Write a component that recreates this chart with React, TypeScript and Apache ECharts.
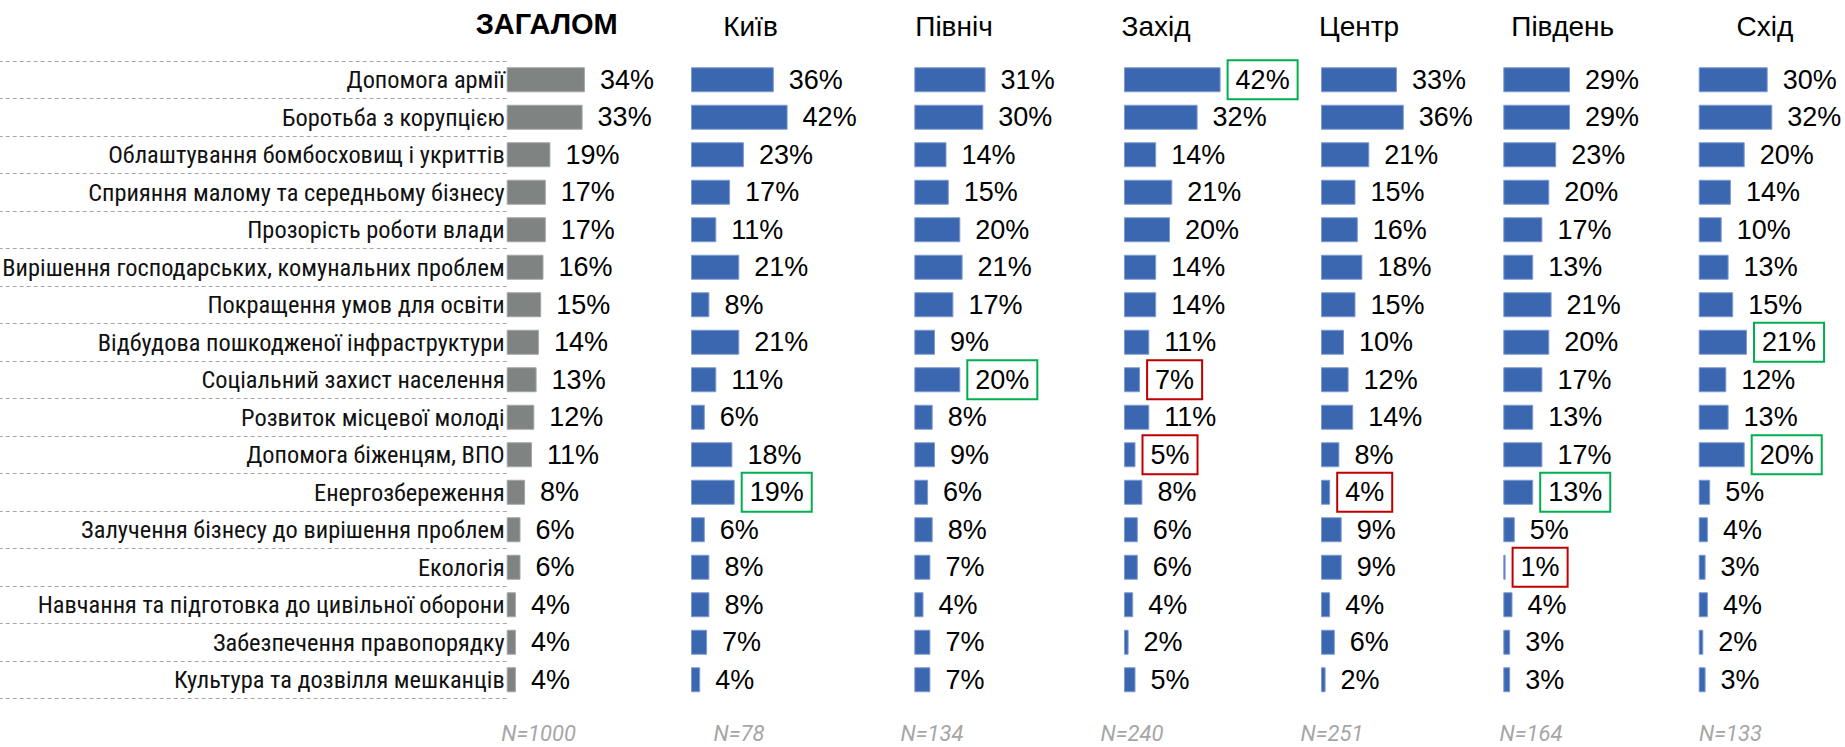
import React, { useEffect, useRef } from 'react';
import * as echarts from 'echarts';

const categories = [
  'Допомога армії',
  'Боротьба з корупцією',
  'Облаштування бомбосховищ і укриттів',
  'Сприяння малому та середньому бізнесу',
  'Прозорість роботи влади',
  'Вирішення господарських, комунальних проблем',
  'Покращення умов для освіти',
  'Відбудова пошкодженої інфраструктури',
  'Соціальний захист населення',
  'Розвиток місцевої молоді',
  'Допомога біженцям, ВПО',
  'Енергозбереження',
  'Залучення бізнесу до вирішення проблем',
  'Екологія',
  'Навчання та підготовка до цивільної оборони',
  'Забезпечення правопорядку',
  'Культура та дозвілля мешканців',
];

const overall = [34, 33, 19, 17, 17, 16, 15, 14, 13, 12, 11, 8, 6, 6, 4, 4, 4];
const kyiv = [36, 42, 23, 17, 11, 21, 8, 21, 11, 6, 18, 19, 6, 8, 8, 7, 4];
const north = [31, 30, 14, 15, 20, 21, 17, 9, 20, 8, 9, 6, 8, 7, 4, 7, 7];
const west = [42, 32, 14, 21, 20, 14, 14, 11, 7, 11, 5, 8, 6, 6, 4, 2, 5];
const centre = [33, 36, 21, 15, 16, 18, 15, 10, 12, 14, 8, 4, 9, 9, 4, 6, 2];
const south = [29, 29, 23, 20, 17, 13, 21, 20, 17, 13, 17, 13, 5, 1, 4, 3, 3];
const east = [30, 32, 20, 14, 10, 13, 15, 21, 12, 13, 20, 5, 4, 3, 4, 2, 3];

const panelTitles = ['ЗАГАЛОМ', 'Київ', 'Північ', 'Захід', 'Центр', 'Південь', 'Схід'];
const panelValues = [overall, kyiv, north, west, centre, south, east];
const sampleSizes = [1000, 78, 134, 240, 251, 164, 133];

// highlighted labels: [panel title, category index]
const highlightsHigh: [string, number][] = [
  ['Захід', 0],
  ['Північ', 8],
  ['Схід', 7],
  ['Схід', 10],
  ['Київ', 11],
  ['Південь', 11],
];
const highlightsLow: [string, number][] = [
  ['Захід', 8],
  ['Захід', 10],
  ['Центр', 11],
  ['Південь', 13],
];

// layout (pixels)
const barStarts = [506.7, 691, 914.3, 1124, 1321, 1503.3, 1698.7];
const titleCenters = [546.7, 750.6, 954, 1156, 1359, 1562.7, 1765];
const nCenters = [538.6, 739, 932, 1132, 1332, 1531, 1730.5];
const AXIS_MAX = 50;
const PX_PER_PCT = 2.3;
const GRID_TOP = 61;
const ROW_H = 37.5;

const GREEN = '#00b050';
const RED = '#c00000';

export default function App() {
  const ref = useRef<HTMLDivElement>(null);

  useEffect(() => {
    if (!ref.current) return;
    const chart = echarts.init(ref.current, undefined, { renderer: 'svg' });

    const gridH = ROW_H * categories.length;
    const grids = panelTitles.map((_, i) => ({
      left: barStarts[i],
      top: GRID_TOP,
      width: AXIS_MAX * PX_PER_PCT,
      height: gridH,
      containLabel: false,
      outerBoundsMode: 'none',
    }));

    const xAxes = panelTitles.map((_, i) => ({
      type: 'value',
      gridIndex: i,
      min: 0,
      max: AXIS_MAX,
      show: false,
    }));

    const yAxes = panelTitles.map((_, i) => ({
      type: 'category',
      gridIndex: i,
      data: categories,
      inverse: true,
      show: i === 0,
      axisLine: { show: false },
      axisTick: {
        show: i === 0,
        interval: 0,
        length: 507,
        lineStyle: { color: '#a6a6a6', width: 1, type: [4, 3] },
      },
      axisLabel: {
        show: i === 0,
        interval: 0,
        margin: 2,
        fontSize: 24.4,
        fontFamily: "'Liberation Sans Narrow', 'Roboto Condensed', 'DejaVu Sans Condensed', sans-serif",
        color: '#111',
      },
    }));

    const series = panelTitles.map((title, i) => {
      const isOverall = i === 0;
      return {
        type: 'bar',
        xAxisIndex: i,
        yAxisIndex: i,
        barWidth: 25,
        itemStyle: {
          color: isOverall ? '#7f8382' : '#3a67b0',
          borderColor: isOverall ? '#a3a6a5' : '#7f9ad0',
          borderWidth: 1,
        },
        label: {
          show: true,
          position: 'right',
          distance: 7,
          formatter: '{c}%',
          fontSize: 27,
          lineHeight: 27,
          fontFamily: "'Liberation Sans', Arial, sans-serif",
          color: '#000',
          padding: [6, 8, 6, 8],
          borderWidth: 2,
          borderColor: 'transparent',
        },
        data: panelValues[i].map((v, k) => {
          const high = highlightsHigh.some(([t, c]) => t === title && c === k);
          const low = highlightsLow.some(([t, c]) => t === title && c === k);
          if (high || low) {
            return { value: v, label: { borderColor: high ? GREEN : RED } };
          }
          return v;
        }),
      };
    });

    const graphics: any[] = [];
    panelTitles.forEach((t, i) => {
      graphics.push({
        type: 'text',
        x: titleCenters[i],
        y: i === 0 ? 24 : 26,
        style: {
          text: t,
          align: 'center',
          verticalAlign: 'middle',
          fontSize: i === 0 ? 29 : 28,
          fontWeight: i === 0 ? 'bold' : 'normal',
          fontFamily: "'Liberation Sans', Arial, sans-serif",
          fill: '#000',
        },
      });
      graphics.push({
        type: 'text',
        x: nCenters[i],
        y: 733,
        style: {
          text: 'N=' + sampleSizes[i],
          align: 'center',
          verticalAlign: 'middle',
          fontSize: 22,
          fontStyle: 'italic',
          fontFamily: 'Roboto, sans-serif',
          fill: '#a6a6a6',
        },
      });
    });

    chart.setOption({
      animation: false,
      backgroundColor: '#ffffff',
      grid: grids,
      xAxis: xAxes,
      yAxis: yAxes,
      series,
      graphic: graphics,
    });

    return () => chart.dispose();
  }, []);

  return (
    <div
      ref={ref}
      style={{ position: 'fixed', left: 0, top: 0, width: 1845, height: 747 }}
    />
  );
}
